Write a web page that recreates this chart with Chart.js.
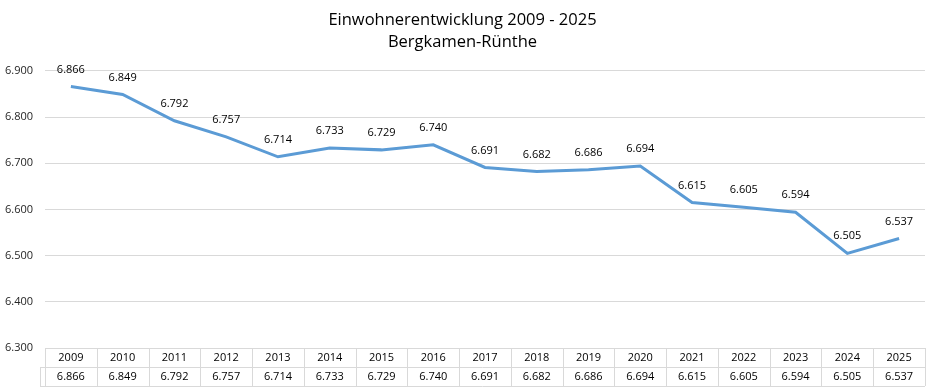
<!DOCTYPE html>
<html>
<head>
<meta charset="utf-8">
<script src="https://cdn.jsdelivr.net/npm/chart.js@4"></script>
<style>
  html, body { margin: 0; padding: 0; background: #fff; }
  #box { width: 936px; height: 388px; }
</style>
</head>
<body>
<div id="box"><canvas id="Grafico"></canvas></div>
<script>
const jahre = ['2009', '2010', '2011', '2012', '2013', '2014', '2015', '2016', '2017',
               '2018', '2019', '2020', '2021', '2022', '2023', '2024', '2025'];
const einwohner = [6866, 6849, 6792, 6757, 6714, 6733, 6729, 6740, 6691,
                   6682, 6686, 6694, 6615, 6605, 6594, 6505, 6537];
const yMin = 6300, yMax = 6900, yStep = 100;
const titel = ['Einwohnerentwicklung 2009 - 2025', 'Bergkamen-Rünthe'];

const schrift = '"Open Sans", "Noto Sans", sans-serif';

function formatDe(v) {
    let t = Math.floor(v / 1000);
    let r = String(v % 1000).padStart(3, '0');
    return t + '.' + r;
}

// Werte über den Punkten
const wertLabels = {
    id: 'wertLabels',
    afterDatasetsDraw(chart) {
        const ctx = chart.ctx;
        const meta = chart.getDatasetMeta(0);
        ctx.save();
        ctx.font = '11px ' + schrift;
        ctx.fillStyle = '#000';
        ctx.textAlign = 'center';
        ctx.textBaseline = 'middle';
        meta.data.forEach((p, i) => {
            ctx.fillText(formatDe(einwohner[i]), p.x, p.y - 17);
        });
        ctx.restore();
    }
};

// Datentabelle unter dem Diagramm
const datenTabelle = {
    id: 'datenTabelle',
    afterDraw(chart) {
        const ctx = chart.ctx;
        const x = chart.scales.x;
        const area = chart.chartArea;
        const top = area.bottom;
        const rowH = 19;
        const colW = (area.right - area.left) / jahre.length;
        ctx.save();
        ctx.strokeStyle = '#d9d9d9';
        ctx.lineWidth = 1;
        ctx.beginPath();
        // horizontale Linien
        ctx.moveTo(area.left, top + 0.5); ctx.lineTo(area.right, top + 0.5);
        ctx.moveTo(area.left - 5, top + rowH + 0.5); ctx.lineTo(area.right, top + rowH + 0.5);
        ctx.moveTo(area.left - 5, top + 2 * rowH + 0.5); ctx.lineTo(area.right, top + 2 * rowH + 0.5);
        // vertikale Linien
        for (let i = 0; i <= jahre.length; i++) {
            let px = Math.round(area.left + i * colW) + 0.5;
            ctx.moveTo(px, top); ctx.lineTo(px, top + 2 * rowH);
        }
        ctx.moveTo(area.left - 5 + 0.5, top + rowH); ctx.lineTo(area.left - 5 + 0.5, top + 2 * rowH);
        ctx.stroke();

        ctx.font = '11px ' + schrift;
        ctx.fillStyle = '#000';
        ctx.textAlign = 'center';
        ctx.textBaseline = 'middle';
        jahre.forEach((j, i) => {
            let cx = x.getPixelForValue(i);
            ctx.fillText(j, cx, top + rowH / 2 + 0.5);
            ctx.fillText(formatDe(einwohner[i]), cx, top + rowH * 1.5 + 0.5);
        });
        ctx.restore();
    }
};

let ctx = document.getElementById('Grafico').getContext('2d');
let graphic = new Chart(ctx, {
    type: 'line',
    data: {
        labels: jahre,
        datasets: [{
            label: 'Einwohner',
            data: einwohner,
            borderColor: '#5b9bd5',
            borderWidth: 3,
            pointRadius: 0,
            tension: 0,
            fill: false
        }]
    },
    options: {
        responsive: true,
        maintainAspectRatio: false,
        animation: false,
        layout: { padding: { left: 0, right: 11, top: 0, bottom: 0 } },
        plugins: {
            legend: { display: false },
            tooltip: { enabled: false },
            title: {
                display: true,
                text: titel,
                color: '#000',
                font: { family: schrift, size: 16.5, weight: 'normal', lineHeight: 1.3 },
                padding: { top: 10, bottom: 18 }
            }
        },
        scales: {
            x: {
                offset: true,
                grid: { display: false },
                border: { display: false },
                ticks: { display: false },
                afterFit: s => { s.height = 40; }
            },
            y: {
                min: yMin,
                max: yMax,
                grid: { color: '#d9d9d9', drawTicks: false },
                border: { display: false },
                ticks: {
                    stepSize: yStep,
                    padding: 12,
                    color: '#262626',
                    font: { family: schrift, size: 11 },
                    callback: v => formatDe(v)
                },
                afterFit: s => { s.width = 45; }
            }
        }
    },
    plugins: [wertLabels, datenTabelle]
});
</script>
</body>
</html>
